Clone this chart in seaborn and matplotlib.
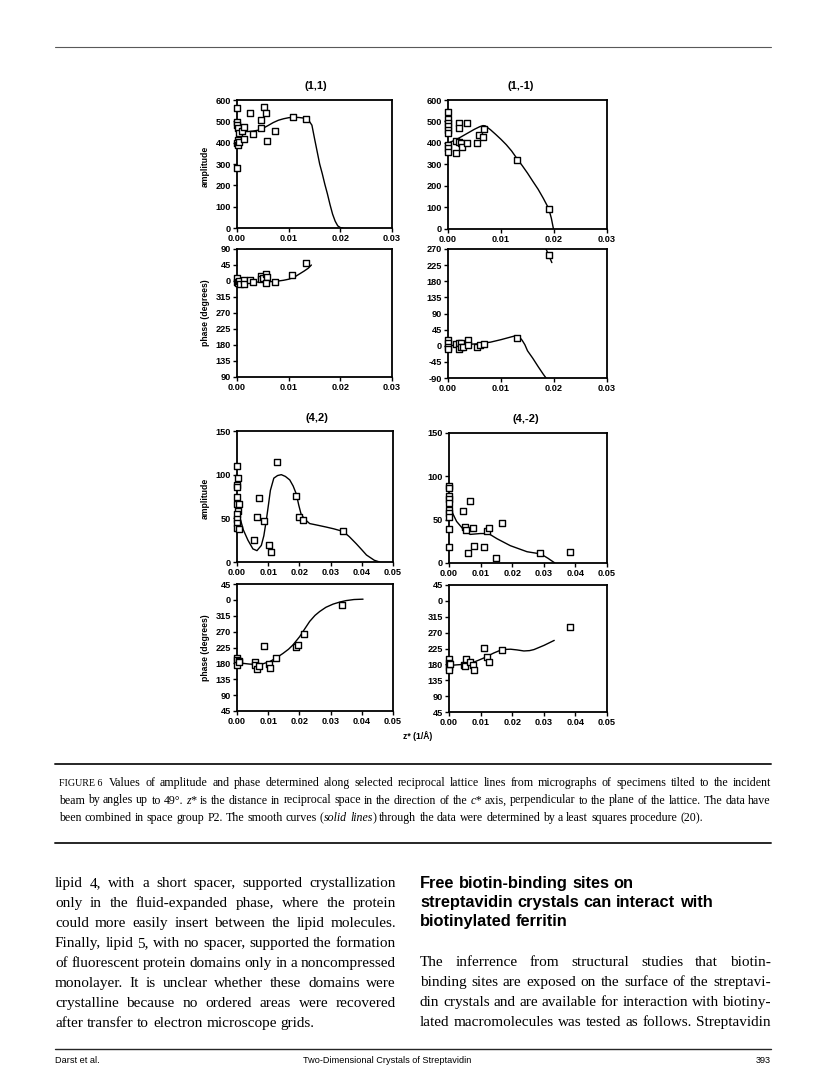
import numpy as np
import pandas as pd
import matplotlib
matplotlib.use("Agg")
import matplotlib.pyplot as plt
import seaborn as sns
from matplotlib.font_manager import FontProperties
from matplotlib.lines import Line2D

# ---------------- data ----------------
# (1,1) amplitude
x11a = [0, 0, 0, 0.0001, 0.0004, 0.0001, 0, 0.0001, 0.0004, 0, 0.001, 0.0014, 0.0014,
        0.0025, 0.0031, 0.0046, 0.0046, 0.0053, 0.0057, 0.0058, 0.0074, 0.0108, 0.0134]
y11a = [561, 495, 485, 470, 443, 412, 397, 389, 401, 283, 456, 475, 415,
        537, 440, 506, 470, 566, 541, 408, 456, 519, 512]
c11a_x = [0, 0.001, 0.002, 0.003, 0.004, 0.005, 0.006, 0.007, 0.008, 0.009, 0.010, 0.011, 0.012,
          0.013, 0.0135, 0.014, 0.0145, 0.015, 0.0155, 0.016, 0.0165, 0.017, 0.0175, 0.018,
          0.0185, 0.019, 0.0195, 0.020, 0.0205]
c11a_y = [459, 455, 452, 454, 458, 467, 480, 494, 505, 512, 517, 519, 518,
          515, 512, 500, 482, 420, 360, 300, 255, 205, 160, 110, 65, 32, 10, 2, 0]
# (1,1) phase (unwrapped degrees)
x11p = [0, 0, 0.0001, 0.0004, 0.0005, 0.0014, 0.0014, 0.0026, 0.0031, 0.0046, 0.0046, 0.005,
        0.0057, 0.0058, 0.0057, 0.0074, 0.0106, 0.0134]
y11p = [7.5, -2, -6.5, 0, -7.5, 2, -7.5, 3, -3, 14, 5, 9, 19, 11, -6.5, -3, 17, 51]
c11p_x = [0, 0.002, 0.004, 0.006, 0.008, 0.009, 0.010, 0.011, 0.012, 0.013, 0.0138, 0.0144]
c11p_y = [-3, -3, -3, -2.5, 0, 2, 5, 10, 19, 28, 36, 45]

# (1,-1) amplitude
x1ma = [0, 0, 0, 0, 0, 0, 0, 0, 0, 0.00146, 0.0016, 0.002, 0.002, 0.0021, 0.0025, 0.0027,
        0.0036, 0.0036, 0.0054, 0.0059, 0.0066, 0.0068, 0.013, 0.019]
y1ma = [546, 510, 493, 479, 460, 448, 391, 375, 360, 411, 352, 495, 471, 406, 398, 380,
        495, 402, 398, 436, 427, 467, 322, 93]
c1ma_x = [0, 0.001, 0.002, 0.003, 0.004, 0.005, 0.006, 0.0066, 0.007, 0.008, 0.009, 0.010,
          0.011, 0.012, 0.013, 0.014, 0.015, 0.016, 0.017, 0.018, 0.019, 0.0195, 0.0199]
c1ma_y = [400, 410, 422, 436, 450, 464, 476, 481, 480, 462, 440, 417,
          392, 363, 328, 295, 260, 222, 185, 142, 95, 50, 0]
# (1,-1) phase
x1mp = [0, 0, 0, 0, 0.0015, 0.002, 0.002, 0.0025, 0.0025, 0.0028, 0.0037, 0.0037, 0.0054,
        0.006, 0.0068, 0.0131, 0.019]
y1mp = [16, 6.5, -3, -10, 5, 8, -8, 9, -3, -3, 16, 3, -3, 3, 4, 22, 253]
c1mp_x = [0, 0.002, 0.004, 0.006, 0.008, 0.010, 0.011, 0.012, 0.0128, 0.0135, 0.014, 0.0145,
          0.015, 0.016, 0.017, 0.018, 0.0185]
c1mp_y = [0, 2, 4, 6, 10, 17, 21, 25, 28, 24, 15, 3, -14, -35, -58, -80, -90]
c1mp2_x = [0.0185, 0.019, 0.0196]
c1mp2_y = [270, 252, 232]

# (4,2) amplitude
x42a = [0, 0, 0, 0.0003, 0, 0, 0.0003, 0, 0, 0, 0, 0.0007, 0.0005, 0.0055, 0.0064, 0.007,
        0.0087, 0.0103, 0.0108, 0.0128, 0.019, 0.0198, 0.0212, 0.034]
y42a = [110, 88, 86, 96, 75, 66, 58.5, 55, 49, 45, 39, 66, 38, 25, 52, 73,
        47, 19, 11, 115, 76, 52, 48, 35]
c42a_x = [0, 0.001, 0.002, 0.0035, 0.0051, 0.0064, 0.0078, 0.0086, 0.0094, 0.0101, 0.0107,
          0.0118, 0.013, 0.0142, 0.0155, 0.0169, 0.018, 0.019, 0.0198, 0.0206, 0.022, 0.0233,
          0.026, 0.0286, 0.031, 0.034, 0.036, 0.0382, 0.040, 0.0415, 0.044, 0.0457]
c42a_y = [72, 50, 37, 25, 15, 13, 19, 30, 48, 66, 82,
          96, 99, 100, 98, 94, 87, 78, 65, 54, 48, 44,
          42, 40, 38, 35, 29, 21, 14, 8, 2, 0]
# (4,2) phase
x42p = [0, 0, 0, 0.0006, 0.0006, 0.0057, 0.0057, 0.0064, 0.007, 0.0087, 0.0103, 0.0107,
        0.0126, 0.0188, 0.0194, 0.0214, 0.0338]
y42p = [194, 189, 175, 187, 183, 183, 175, 164, 173, 229, 177, 166, 194, 226, 232, 263, 346]
c42p_x = [0, 0.002, 0.004, 0.006, 0.008, 0.0105, 0.0125, 0.0147, 0.0165, 0.0179, 0.0201,
          0.0215, 0.0233, 0.025, 0.0265, 0.0285, 0.0308, 0.033, 0.035, 0.0375, 0.0404]
c42p_y = [183, 180, 178, 177, 178, 185, 195, 208, 220, 232, 256,
          275, 299, 316, 327, 339, 348, 354, 358, 361, 362]

# (4,-2) amplitude
x4ma = [0, 0.0001, 0, 0, 0, 0, 0, 0, 0, 0, 0.0044, 0.005, 0.0053, 0.0065, 0.006, 0.0075,
        0.008, 0.011, 0.012, 0.0126, 0.0148, 0.0168, 0.0288, 0.0383]
y4ma = [89, 87, 77, 74, 69, 61.5, 58, 53, 39, 18, 60, 41.5, 38, 72, 11, 40,
        20, 18.5, 36.5, 40, 6, 46, 12, 13]
c4ma_x = [0, 0.0008, 0.0024, 0.0046, 0.0067, 0.0099, 0.0125, 0.0152, 0.0194, 0.0247, 0.029,
          0.0313, 0.0335]
c4ma_y = [71, 60, 48, 38.5, 33, 34, 34, 28, 20, 13, 10.5, 5.5, 0]
# (4,-2) phase
x4mp = [0, 0, 0, 0, 0.0003, 0.0046, 0.0051, 0.0053, 0.0065, 0.0076, 0.008, 0.011, 0.012,
        0.0127, 0.0167, 0.0384]
y4mp = [195, 185, 172, 163, 180, 179, 175, 196, 186, 179, 165, 226, 201, 186, 222, 285]
c4mp_x = [0, 0.0046, 0.0078, 0.011, 0.0141, 0.0168, 0.0195, 0.0215, 0.0237, 0.0255, 0.0269,
          0.0285, 0.0301, 0.0317, 0.0333]
c4mp_y = [177, 180, 186, 198, 212, 222, 223, 221, 218, 219, 222, 228, 234, 241, 248]

titles = ["(1,1)", "(1,-1)", "(4,2)", "(4,-2)"]
xticks_top = [0.00, 0.01, 0.02, 0.03]
xticks_bot = [0.00, 0.01, 0.02, 0.03, 0.04, 0.05]
amp_ticks_top = [0, 100, 200, 300, 400, 500, 600]
amp_ticks_bot = [0, 50, 100, 150]
ph_ticks_11 = [-270, -225, -180, -135, -90, -45, 0, 45, 90]
ph_ticks_1m = [-90, -45, 0, 45, 90, 135, 180, 225, 270]
ph_ticks_4 = [45, 90, 135, 180, 225, 270, 315, 360, 405]

caption_lines = [
    "^FIGURE~6 Values of amplitude and phase determined along selected reciprocal lattice lines from micrographs of specimens tilted to the incident",
    "beam by angles up to 49°. _z*_ is the distance in reciprocal space in the direction of the _c*_ axis, perpendicular to the plane of the lattice. The data have",
    "been combined in space group P2. The smooth curves (_solid_ _lines_) through the data were determined by a least squares procedure (20).",
]
left_col = [
    "lipid 4, with a short spacer, supported crystallization",
    "only in the fluid-expanded phase, where the protein",
    "could more easily insert between the lipid molecules.",
    "Finally, lipid 5, with no spacer, supported the formation",
    "of fluorescent protein domains only in a noncompressed",
    "monolayer. It is unclear whether these domains were",
    "crystalline because no ordered areas were recovered",
    "after transfer to electron microscope grids.",
]
heading = ["Free biotin-binding sites on",
           "streptavidin crystals can interact with",
           "biotinylated ferritin"]
right_col = [
    "The inferrence from structural studies that biotin-",
    "binding sites are exposed on the surface of the streptavi-",
    "din crystals and are available for interaction with biotiny-",
    "lated macromolecules was tested as follows. Streptavidin",
]
footer_left = "Darst et al."
footer_mid = "Two-Dimensional Crystals of Streptavidin"
footer_right = "393"

# ---------------- figure ----------------
W, H = 816, 1089
sns.set_theme(style="ticks")
plt.rcParams["font.family"] = ["Liberation Sans", "DejaVu Sans"]
for k in ["text.color", "axes.labelcolor", "xtick.color", "ytick.color", "axes.edgecolor"]:
    plt.rcParams[k] = "black"
fig = plt.figure(figsize=(W / 100, H / 100), dpi=100)
fig.patch.set_facecolor("white")


def px_ax(x0, y0, x1, y1):
    return fig.add_axes([x0 / W, 1 - y1 / H, (x1 - x0) / W, (y1 - y0) / H])


def panel(rect, px, py, curves, xlim, xticks, ylim, yticks, ylabfun):
    ax = px_ax(*rect)
    for cx, cy in curves:
        sns.lineplot(x=cx, y=cy, ax=ax, color="black", linewidth=1.0, sort=False,
                     estimator=None, zorder=2)
    sns.scatterplot(x=px, y=py, ax=ax, marker="s", s=17, color="white",
                    edgecolor="black", linewidth=1.0, zorder=3, clip_on=False)
    ax.set_xlim(*xlim)
    ax.set_ylim(*ylim)
    ax.set_xticks(xticks)
    ax.set_xticklabels([f"{v:.2f}" for v in xticks])
    ax.set_yticks(yticks)
    ax.set_yticklabels([ylabfun(v) for v in yticks])
    ax.tick_params(direction="out", length=3, width=1.0, labelsize=6.6, pad=1.5)
    for lab in ax.get_xticklabels() + ax.get_yticklabels():
        lab.set_fontweight("bold")
    for s in ax.spines.values():
        s.set_visible(True)
        s.set_linewidth(1.3)
    ax.set_facecolor("white")
    return ax


ident = lambda v: f"{int(v)}"
mod360 = lambda v: f"{int(v) % 360}"

panel((237, 100, 392, 228), x11a, y11a, [(c11a_x, c11a_y)], (0, 0.03), xticks_top,
      (0, 600), amp_ticks_top, ident)
panel((237, 249, 392, 377), x11p, y11p, [(c11p_x, c11p_y)], (0, 0.03), xticks_top,
      (-270, 90), ph_ticks_11, mod360)
panel((448, 100, 607, 229), x1ma, y1ma, [(c1ma_x, c1ma_y)], (0, 0.03), xticks_top,
      (0, 600), amp_ticks_top, ident)
panel((448, 249, 607, 378), x1mp, y1mp, [(c1mp_x, c1mp_y), (c1mp2_x, c1mp2_y)], (0, 0.03),
      xticks_top, (-90, 270), ph_ticks_1m, ident)
panel((237, 431, 393, 562), x42a, y42a, [(c42a_x, c42a_y)], (0, 0.05), xticks_bot,
      (0, 150), amp_ticks_bot, ident)
panel((237, 584, 393, 711), x42p, y42p, [(c42p_x, c42p_y)], (0, 0.05), xticks_bot,
      (45, 405), ph_ticks_4, mod360)
panel((449, 433, 607, 563), x4ma, y4ma, [(c4ma_x, c4ma_y)], (0, 0.05), xticks_bot,
      (0, 150), amp_ticks_bot, ident)
panel((449, 585, 607, 712), x4mp, y4mp, [(c4mp_x, c4mp_y)], (0, 0.05), xticks_bot,
      (45, 405), ph_ticks_4, mod360)


def ftext(x, y, s, **kw):
    return fig.text(x / W, 1 - y / H, s, **kw)


# panel titles
for (tx, ty), t in zip([(316, 86), (521, 86), (317, 418), (526, 419)], titles):
    ftext(tx, ty, t, ha="center", va="center", fontsize=8.0, fontweight="bold")
# y labels
for (lx, ly), t in zip([(205, 166), (205, 313), (205, 498), (205, 648)],
                       ["amplitude", "phase (degrees)", "amplitude", "phase (degrees)"]):
    ftext(lx, ly, t, ha="center", va="center", rotation=90, fontsize=6.2, fontweight="bold")
ftext(418, 736, "z* (1/Å)", ha="center", va="center", fontsize=6.2, fontweight="bold")

# ---------------- page text ----------------
renderer = fig.canvas.get_renderer()
serif = FontProperties(family="Liberation Serif", size=8.6)
serif_i = FontProperties(family="Liberation Serif", style="italic", size=8.6)
serif_sc = FontProperties(family="Liberation Serif", size=7.2)
body = FontProperties(family="Liberation Serif", size=11.0)
head = FontProperties(family="Liberation Sans", weight="bold", size=11.8)
small = FontProperties(family="Liberation Sans", size=6.6)


def text_w(s, fp):
    t = fig.text(0, 0, s, fontproperties=fp)
    w = t.get_window_extent(renderer).width
    t.remove()
    return w


def parse_word(word, fp, fpi, fpsc):
    if word.startswith("^"):
        return [(word[1:].replace("~", " ") + " ", fpsc)]
    segs = []
    ital = False
    cur = ""
    for ch in word:
        if ch == "_":
            if cur:
                segs.append((cur, fpi if ital else fp))
            cur = ""
            ital = not ital
        else:
            cur += ch
    if cur:
        segs.append((cur, fpi if ital else fp))
    return segs


def draw_line(line, x0, x1, yb, fp, fpi=None, fpsc=None, justify=True):
    fpi = fpi or fp
    fpsc = fpsc or fp
    words = [parse_word(w, fp, fpi, fpsc) for w in line.split(" ")]
    widths = [sum(text_w(s, f) for s, f in segs) for segs in words]
    if justify and len(words) > 1:
        gap = (x1 - x0 - sum(widths)) / (len(words) - 1)
    else:
        gap = text_w("a a", fp) - text_w("aa", fp)
    x = x0
    for segs, wd in zip(words, widths):
        xx = x
        for s, f in segs:
            ftext(xx, yb, s, fontproperties=f, ha="left", va="baseline")
            xx += text_w(s, f)
        x += wd + gap


def hline(y, x0, x1, lw, color="black"):
    fig.add_artist(Line2D([x0 / W, x1 / W], [1 - y / H, 1 - y / H], transform=fig.transFigure,
                          color=color, linewidth=lw))


hline(47, 55, 771, 0.8, "0.35")
hline(764, 55, 771, 1.4, "0.15")
hline(843, 55, 771, 1.4, "0.15")
hline(1049, 55, 771, 1.0, "0.15")

for i, line in enumerate(caption_lines):
    draw_line(line, 59, 771, 786 + 17.5 * i, serif, serif_i, serif_sc, justify=(i < 2))

for i, line in enumerate(left_col):
    draw_line(line, 55, 396, 887 + 20 * i, body, justify=(i < len(left_col) - 1))

for i, line in enumerate(heading):
    draw_line(line, 420, 771, 888 + 19.2 * i, head, justify=False)

for i, line in enumerate(right_col):
    draw_line(line, 420, 771, 966 + 20 * i, body, justify=True)

ftext(55, 1063, footer_left, fontproperties=small, ha="left", va="baseline")
ftext(303, 1063, footer_mid, fontproperties=small, ha="left", va="baseline")
ftext(771, 1063, footer_right, fontproperties=small, ha="right", va="baseline")

fig.savefig("out.png", dpi=100, facecolor="white")
